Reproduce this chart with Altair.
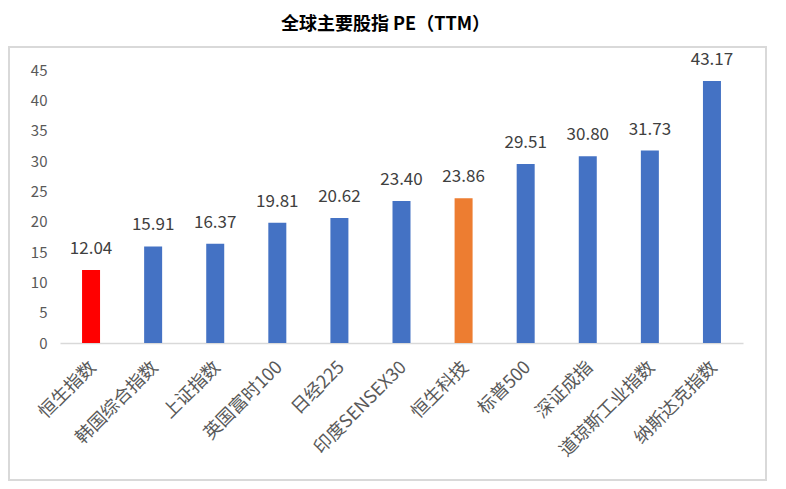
import altair as alt
import pandas as pd

names = ["恒生指数", "韩国综合指数", "上证指数", "英国富时100", "日经225", "印度SENSEX30",
         "恒生科技", "标普500", "深证成指", "道琼斯工业指数", "纳斯达克指数"]
pe = [12.04, 15.91, 16.37, 19.81, 20.62, 23.40, 23.86, 29.51, 30.80, 31.73, 43.17]
colors = ["#FF0000", "#4472C4", "#4472C4", "#4472C4", "#4472C4", "#4472C4",
          "#ED7D31", "#4472C4", "#4472C4", "#4472C4", "#4472C4"]
y_ticks = [0, 5, 10, 15, 20, 25, 30, 35, 40, 45]

df = pd.DataFrame({"name": names, "pe": pe, "color": colors,
                   "label": [f"{v:.2f}" for v in pe]})

FONT = "Noto Sans CJK SC"

x = alt.X("name:N", sort=names, title=None,
          axis=alt.Axis(labelAngle=-45, labelFontSize=18, labelColor="#595959",
                        labelFont=FONT, ticks=False, domainColor="#d9d9d9",
                        domainWidth=1.5, labelPadding=15, labelOffset=-4,
                        labelLimit=300))
y = alt.Y("pe:Q", title=None,
          scale=alt.Scale(domain=[0, 45], nice=False),
          axis=alt.Axis(values=y_ticks, grid=False, domain=False, labelOverlap=False,
                        ticks=False, labelFontSize=15, labelColor="#595959",
                        labelFont=FONT, labelPadding=13))

frame = alt.Chart(df).mark_rect(fill="transparent", stroke="#d9d9d9", strokeWidth=2).encode(
    x=alt.value(-51), x2=alt.value(706), y=alt.value(-23), y2=alt.value(410)
).transform_filter(alt.datum.name == names[0])

bars = alt.Chart(df).mark_bar(size=18).encode(
    x=x, y=y, color=alt.Color("color:N", scale=None)
)
text = alt.Chart(df).mark_text(baseline="alphabetic", dy=-16, fontSize=17,
                               color="#404040", font=FONT).encode(
    x=x, y=y, text="label:N"
)

chart = alt.layer(frame, bars, text).properties(
    width=683, height=273,
    title=alt.TitleParams("全球主要股指 PE（TTM）", fontSize=18, font=FONT,
                          fontWeight="bold", color="#000000", offset=12, dx=-16),
    autosize=alt.AutoSizeParams(type="none"),
    padding={"left": 52, "top": 62, "right": 30, "bottom": 140},
).configure_view(stroke=None)

chart.save("out.html", embed_options={"renderer": "svg", "actions": False})
